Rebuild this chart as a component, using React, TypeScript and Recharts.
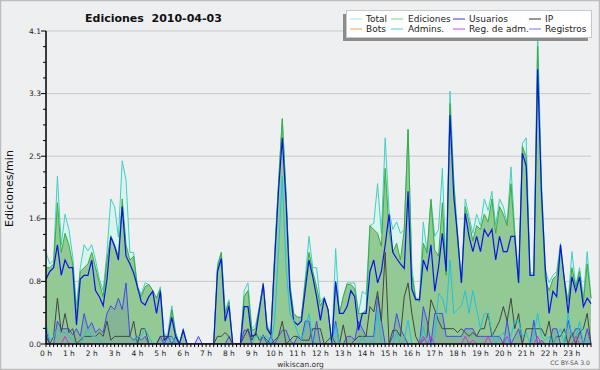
import React from "react"
import { ComposedChart, Area, Line, XAxis, YAxis, CartesianGrid } from "recharts"

// 10-minute bins, one row of six values per hour
const total = [
  1.2, 1.05, 1.1, 2.2, 1.3, 1.7,
  1.5, 1.15, 0.5, 1.0, 1.3, 1.22,
  1.3, 1.1, 0.85, 0.7, 1.2, 1.9,
  1.8, 1.4, 2.4, 2.15, 1.2, 1.2,
  0.75, 0.65, 0.8, 0.78, 0.7, 0.6,
  0.75, 0.1, 0.15, 0.5, 0.15, 0,
  0.2, 0, 0, 0, 0, 0,
  0, 0, 0, 1.05, 1.2, 0.42,
  0.58, 0, 0, 0, 0.7, 0.8,
  0.2, 0.25, 0.5, 0.8, 0.25, 0.15,
  1.2, 2.1, 2.95, 1.95, 0.8, 0.4,
  0.35, 0.35, 0.85, 1.41, 1.0, 1.0,
  0.55, 0.62, 0.45, 0, 1.25, 0.4,
  0.62, 0.8, 0.8, 0.8, 0.4, 0.69,
  0.65, 1.55, 1.58, 2.1, 1.45, 2.7,
  1.75, 1.5, 1.6, 1.45, 1.5, 2.81,
  1.0, 0.6, 0.6, 1.6, 1.19, 1.9,
  1.41, 1.5, 2.3, 0.97, 3.31, 2.15,
  1.45, 0.8, 1.9, 1.67, 1.45, 1.7,
  1.55, 1.9, 1.75, 2.0, 1.55, 1.9,
  1.8, 1.58, 2.32, 1.5, 0.85, 2.63,
  2.7, 0.93, 0.93, 4.1, 2.15, 0.97,
  0.8, 0.9, 0.95, 1.32, 0.85, 0.55,
  1.21, 0.75, 1.0, 0.6, 1.21, 0.6,
]

const ediciones = [
  1.0, 1.0, 1.05, 1.85, 1.2, 1.45,
  1.3, 1.05, 0.4, 0.95, 1.0, 1.05,
  1.2, 1.0, 0.8, 0.62, 1.1, 1.42,
  1.3, 1.15, 1.9, 1.3, 1.1, 1.15,
  0.72, 0.62, 0.75, 0.78, 0.7, 0.6,
  0.72, 0.1, 0.1, 0.45, 0.15, 0,
  0.18, 0, 0, 0, 0, 0,
  0, 0, 0, 1.0, 1.2, 0.4,
  0.55, 0, 0, 0, 0.62, 0.7,
  0.18, 0.2, 0.48, 0.8, 0.22, 0.14,
  1.15, 2.1, 2.95, 1.95, 0.75, 0.4,
  0.35, 0.35, 0.8, 1.2, 0.95, 0.75,
  0.5, 0.6, 0.45, 0, 0.8, 0.4,
  0.62, 0.78, 0.78, 0.72, 0.4, 0.4,
  0.45, 1.55, 1.5, 1.45, 1.28, 2.3,
  1.5, 1.2, 1.32, 1.1, 1.5, 2.81,
  0.9, 0.6, 0.55, 1.32, 1.19, 1.89,
  1.23, 1.15, 1.85, 0.9, 3.15, 2.1,
  1.35, 0.8, 1.8, 1.6, 1.35, 1.55,
  1.5, 1.7, 1.6, 1.9, 1.45, 1.8,
  1.7, 1.55, 2.1, 1.4, 0.8, 2.59,
  2.45, 0.9, 0.9, 3.9, 1.9, 0.85,
  0.7, 0.85, 0.9, 1.25, 0.85, 0.55,
  1.0, 0.75, 0.95, 0.55, 1.05, 0.6,
]

const usuarios = [
  0.85, 0.95, 1.0, 1.3, 0.9, 1.1,
  1.0, 1.0, 0.25, 0.85, 0.9, 0.9,
  1.1, 0.7, 0.62, 0.5, 0.85, 1.4,
  1.28, 1.1, 1.8, 1.15, 1.05, 0.93,
  0.75, 0.55, 0.51, 0.62, 0.69, 0.4,
  0.69, 0.05, 0.1, 0.35, 0.1, 0,
  0.18, 0, 0, 0, 0, 0,
  0, 0, 0, 0.95, 1.12, 0.3,
  0.5, 0, 0, 0, 0.49, 0.49,
  0.1, 0.12, 0.45, 0.78, 0.2, 0.12,
  1.1, 2.0, 2.7, 1.85, 0.7, 0.3,
  0.25, 0.3, 0.7, 1.1, 0.88, 0.62,
  0.31, 0.6, 0.45, 0, 0.82, 0.4,
  0.4, 0.49, 0.7, 0.62, 0.18, 0.4,
  0.4, 0.95, 1.1, 0.8, 0.95, 1.3,
  1.7, 1.2, 1.12, 1.05, 0.99, 2.0,
  0.72, 0.58, 0.58, 1.1, 0.97, 1.3,
  0.69, 1.01, 1.45, 0.95, 3.0, 1.93,
  1.41, 0.8, 1.71, 1.41, 1.21, 1.41,
  1.21, 1.5, 1.41, 1.5, 1.1, 1.41,
  1.21, 1.21, 1.41, 1.41, 0.8, 2.5,
  2.33, 0.9, 0.9, 3.6, 2.0, 1.0,
  0.4, 0.69, 0.62, 1.3, 0.84, 0.4,
  0.88, 0.69, 0.88, 0.49, 0.6, 0.53,
]

const ip = [
  0.1, 0, 0.1, 0.6, 0.15, 0.4,
  0.15, 0.2, 0, 0.05, 0.1, 0.1,
  0.1, 0.1, 0.15, 0.1, 0.3, 0.05,
  0.1, 0.1, 0.1, 0.1, 0.1, 0.3,
  0, 0.2, 0.2, 0, 0, 0,
  0.1, 0.1, 0.1, 0.1, 0, 0,
  0, 0, 0, 0, 0, 0,
  0, 0, 0, 0.1, 0.1, 0.15,
  0.1, 0, 0, 0, 0.1, 0.2,
  0.05, 0.15, 0.05, 0.1, 0.05, 0,
  0.05, 0.1, 0.3, 0, 0.05, 0.1,
  0.1, 0.05, 0.05, 0.05, 0.2, 0.2,
  0.2, 0, 0.05, 0.1, 0, 0,
  0.25, 0, 0, 0.05, 0.1, 0.1,
  0.1, 0.49, 0.42, 0.69, 0.3, 1.2,
  0, 0.18, 0.18, 0.1, 0.62, 0.8,
  0.4, 0.1, 0, 0.05, 0.1, 0.58,
  0.45, 0.3, 0.2, 0.2, 0.2, 0.2,
  0.15, 0.2, 0.15, 0.1, 0.15, 0.1,
  0.2, 0.2, 0.4, 0.1, 0.2, 0.3,
  0.49, 0.3, 0.6, 0.2, 0.4, 0,
  0.2, 0.2, 0.2, 0.2, 0.2, 0.1,
  0.3, 0, 0.1, 0.1, 0.2, 0,
  0.15, 0, 0.15, 0.2, 0.4, 0,
]

const admins = [
  0.25, 0.05, 0.1, 0.2, 0.15, 0.15,
  0.1, 0.05, 0, 0, 0.1, 0.2,
  0.1, 0.1, 0.05, 0, 0, 0,
  0, 0, 0, 0, 0, 0,
  0.1, 0.1, 0.2, 0.1, 0, 0,
  0, 0, 0, 0.1, 0, 0,
  0, 0, 0, 0, 0, 0,
  0, 0, 0, 0, 0, 0,
  0, 0, 0, 0, 0, 0,
  0, 0.1, 0.1, 0.1, 0.1, 0,
  0.3, 1.2, 2.2, 1.0, 0.4, 0.3,
  0.15, 0.05, 0.2, 0.4, 0.05, 0,
  0, 0, 0, 0, 0.25, 0,
  0, 0, 0, 0, 0, 0.1,
  0, 0.05, 0, 0.45, 0, 0,
  0, 0, 0.15, 0, 0.05, 0.31,
  0, 0, 0, 0.23, 0, 0,
  0.1, 0.66, 0.6, 0.4, 1.1, 0.4,
  0.45, 0.5, 0.7, 0.4, 0.7, 0.45,
  0.2, 0.4, 0.4, 0.15, 0, 0.1,
  0.15, 0, 0.1, 0.3, 0.3, 0.1,
  0.15, 0, 0.1, 0.4, 0.1, 0.05,
  0.1, 0, 0.1, 0.2, 0, 0.4,
  0.1, 0.05, 0.3, 0, 0.05, 0,
]

const regAdm = [
  0, 0, 0, 0, 0, 0.1,
  0, 0, 0, 0, 0, 0,
  0, 0, 0, 0, 0, 0,
  0, 0, 0, 0, 0, 0,
  0, 0, 0, 0, 0, 0,
  0, 0, 0, 0, 0, 0,
  0, 0, 0, 0, 0, 0,
  0, 0, 0, 0, 0, 0,
  0, 0, 0, 0, 0, 0,
  0, 0, 0, 0, 0, 0,
  0, 0, 0, 0, 0, 0,
  0, 0, 0, 0, 0, 0,
  0, 0, 0, 0, 0, 0,
  0, 0, 0, 0, 0, 0,
  0, 0, 0, 0, 0, 0,
  0, 0, 0, 0, 0, 0,
  0, 0, 0, 0.1, 0, 0.1,
  0, 0, 0, 0, 0, 0,
  0, 0, 0.1, 0, 0.05, 0,
  0, 0, 0.1, 0, 0, 0,
  0, 0.1, 0, 0, 0, 0,
  0, 0, 0, 0.1, 0, 0,
  0, 0, 0, 0, 0, 0,
  0, 0.1, 0, 0, 0, 0,
]

const registros = [
  0.18, 0, 0, 0.3, 0.2, 0.2,
  0.2, 0.12, 0.2, 0.1, 0.4, 0.2,
  0.28, 0.15, 0.2, 0.15, 0.4, 0.5,
  0.45, 0.6, 0.45, 0.8, 0.1, 0.05,
  0.1, 0.05, 0.1, 0, 0, 0,
  0.1, 0, 0.1, 0, 0.1, 0,
  0, 0, 0, 0, 0.1, 0,
  0, 0, 0, 0, 0, 0,
  0.1, 0, 0, 0, 0.18, 0.18,
  0, 0, 0, 0.12, 0, 0.1,
  0, 0.1, 0.18, 0.18, 0.05, 0,
  0.1, 0.05, 0.3, 0.3, 0, 0.3,
  0, 0, 0, 0, 0.3, 0,
  0, 0.1, 0.1, 0.05, 0.3, 0.2,
  0.1, 0.1, 0.1, 0.62, 0.3, 0,
  0, 0.1, 0.4, 0.2, 0.1, 0,
  0, 0, 0, 0.49, 0.3, 0,
  0.4, 0.4, 0.4, 0.1, 0.1, 0.1,
  0.1, 0.1, 0.2, 0.2, 0.2, 0.1,
  0.1, 0.1, 0.1, 0.1, 0.1, 0.1,
  0, 0.31, 0, 0.1, 0.2, 0,
  0, 0, 0.31, 0, 0.05, 0,
  0, 0.2, 0.2, 0, 0, 0.31,
  0.1, 0.2, 0.2, 0, 0.2, 0,
]

const hourLabels = [
  "0 h", "1 h", "2 h", "3 h", "4 h", "5 h", "6 h", "7 h", "8 h", "9 h", "10 h", "11 h",
  "12 h", "13 h", "14 h", "15 h", "16 h", "17 h", "18 h", "19 h", "20 h", "21 h", "22 h", "23 h",
]
const yTickLabels = ["0.0", "0.8", "1.6", "2.5", "3.3", "4.1"]
const yMax = 4.1

const legendItems = [
  { name: "Total", color: "#a6e9e6" },
  { name: "Bots", color: "#f5a23a" },
  { name: "Ediciones", color: "#7fd17f" },
  { name: "Admins.", color: "#3fd0e2" },
  { name: "Usuarios", color: "#3434e4" },
  { name: "Reg. de adm.", color: "#e040e6" },
  { name: "IP", color: "#333333" },
  { name: "Registros", color: "#7474f2" },
]

const rows = total.map((v, i) => ({
  t: i,
  total: v,
  ediciones: ediciones[i],
  usuarios: usuarios[i],
  ip: ip[i],
  admins: admins[i],
  regAdm: regAdm[i],
  registros: registros[i],
}))

const majorStep = yMax / 5
const yMajor = yTickLabels.map((_, k) => k * majorStep)
const yTicks = Array.from({ length: 21 }, (_, k) => (k * majorStep) / 4)
const xTicks = rows.map((r) => r.t)

const FONT = "'DejaVu Sans', sans-serif"

function XTick(props: any) {
  const { x, y, payload } = props
  const i = payload.value
  return (
    <g>
      <line x1={x} x2={x} y1={y} y2={y + 3} stroke="#000" />
      {i % 6 === 0 && (
        <text x={x} y={y + 11.5} textAnchor="middle" fontSize={7.5} fontFamily={FONT} fill="#222">
          {hourLabels[i / 6]}
        </text>
      )}
    </g>
  )
}

function YTick(props: any) {
  const { x, y, payload } = props
  const k = Math.round((payload.value / majorStep) * 4)
  const major = k % 4 === 0
  return (
    <g>
      <line x1={x - (major ? 5 : 3)} x2={x} y1={y} y2={y} stroke="#000" />
      {major && (
        <text x={x - 5} y={y + 2.5} textAnchor="end" fontSize={7.5} fontFamily={FONT} fill="#222">
          {yTickLabels[k / 4]}
        </text>
      )}
    </g>
  )
}

const colX = [350, 391, 453, 529]
const textX = [366, 408, 469, 545]

export default function App() {
  return (
    <div style={{ position: "absolute", top: 0, left: 0, width: 600, height: 370, background: "#eeeff1", overflow: "hidden" }}>
      <ComposedChart width={600} height={370} data={rows} margin={{ top: 31, right: 9, bottom: 12, left: 0 }}>
        <CartesianGrid vertical={false} horizontalValues={yMajor.slice(1)} stroke="#c9c9c9" />
        <XAxis
          dataKey="t"
          type="number"
          domain={[0, 143]}
          ticks={xTicks}
          interval={0}
          height={14}
          tickSize={0}
          tickMargin={0}
          tickLine={false}
          tick={<XTick />}
          axisLine={{ stroke: "#000", strokeWidth: 1.5 }}
        />
        <YAxis
          type="number"
          domain={[0, yMax]}
          ticks={yTicks}
          interval={0}
          width={46}
          tickSize={0}
          tickMargin={0}
          tickLine={false}
          tick={<YTick />}
          axisLine={{ stroke: "#000", strokeWidth: 1.5 }}
          allowDataOverflow
        />
        <Area type="linear" dataKey="total" stroke="#3fcfc4" strokeWidth={1} fill="#d9f3ee" fillOpacity={1} dot={false} activeDot={false} isAnimationActive={false} />
        <Area type="linear" dataKey="ediciones" stroke="#38ac3c" strokeWidth={1} fill="#93c995" fillOpacity={1} dot={false} activeDot={false} isAnimationActive={false} />
        <Line type="linear" dataKey="usuarios" stroke="#0a14e6" strokeWidth={1.2} dot={false} activeDot={false} isAnimationActive={false} />
        <Line type="linear" dataKey="ip" stroke="#444444" strokeWidth={1} dot={false} activeDot={false} isAnimationActive={false} />
        <Line type="linear" dataKey="admins" stroke="#22c2dc" strokeWidth={1} dot={false} activeDot={false} isAnimationActive={false} />
        <Line type="linear" dataKey="regAdm" stroke="#d030e0" strokeWidth={1} dot={false} activeDot={false} isAnimationActive={false} />
        <Area type="linear" dataKey="registros" stroke="#4646f0" strokeWidth={1} fill="#4a6d9a" fillOpacity={0.2} dot={false} activeDot={false} isAnimationActive={false} />
      </ComposedChart>

      <svg width={600} height={370} style={{ position: "absolute", top: 0, left: 0, pointerEvents: "none" }}>
        <text x={85} y={22} fontSize={11} fontWeight="bold" fontFamily={FONT} fill="#111" style={{ whiteSpace: "pre" }}>
          {"Ediciones  2010-04-03"}
        </text>
        <text x={13} y={188.5} fontSize={11} fontFamily={FONT} fill="#111" textAnchor="middle" transform="rotate(-90 13 188.5)">
          Ediciones/min
        </text>
        <text x={300.5} y={366.5} fontSize={7.5} fontFamily={FONT} fill="#333" textAnchor="middle">
          wikiscan.org
        </text>
        <text x={590} y={365} fontSize={6.2} fontFamily={FONT} fill="#555" textAnchor="end">
          CC BY-SA 3.0
        </text>

        <rect x={343} y={14} width={245} height={27} fill="#8c8c8c" />
        <rect x={346.5} y={10.5} width={245} height={27} fill="#ffffff" stroke="#c8c8c8" />
        {legendItems.map((item, idx) => {
          const col = Math.floor(idx / 2)
          const row = idx % 2
          const cy = row === 0 ? 19 : 29
          return (
            <g key={item.name}>
              <line x1={colX[col]} x2={colX[col] + 12} y1={cy} y2={cy} stroke={item.color} strokeWidth={1} />
              <text x={textX[col]} y={cy + 3.3} fontSize={9} fontFamily={FONT} fill="#222">
                {item.name}
              </text>
            </g>
          )
        })}

        <rect x={0.5} y={0.5} width={599} height={369} fill="none" stroke="#bdbdbd" strokeWidth={1.5} />
      </svg>
    </div>
  )
}
